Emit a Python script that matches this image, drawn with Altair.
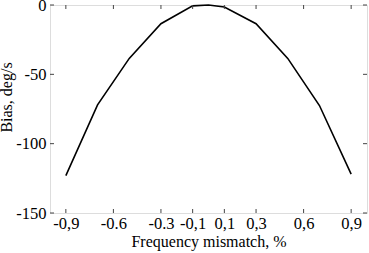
import altair as alt
import pandas as pd

# Data
mismatch = [-0.9, -0.7, -0.5, -0.3, -0.1, 0.0, 0.1, 0.3, 0.5, 0.7, 0.9]
bias = [-123, -72, -38.5, -13.5, -0.6, 0, -1.5, -13.5, -38.5, -72.5, -122]

x_ticks = [-0.9, -0.6, -0.3, -0.1, 0.1, 0.3, 0.6, 0.9]
x_tick_labels = ["-0,9", "-0.6", "-0.3", "-0,1", "0,1", "0,3", "0,6", "0,9"]
y_ticks = [0, -50, -100, -150]

W, H = 317, 208
FONT = "Liberation Serif"

df = pd.DataFrame({"x": mismatch, "y": bias})
xt = pd.DataFrame({"x": x_ticks})
yt = pd.DataFrame({"y": y_ticks})

# label expression built from the label list
expr = "''"
for v, lab in reversed(list(zip(x_ticks, x_tick_labels))):
    expr = f"(abs(datum.value - ({v})) < 1e-6 ? '{lab}' : {expr})"

xscale = alt.Scale(domain=[-1, 1], nice=False, zero=False)
yscale = alt.Scale(domain=[-150, 0], nice=False, zero=False)

xaxis = alt.Axis(
    values=x_ticks, labelExpr=expr, ticks=False, domain=False, grid=False,
    labelFont=FONT, labelFontSize=16.5, labelColor="black", labelPadding=2,
    title="Frequency mismatch, %", titleFont=FONT, titleFontSize=16,
    titleFontWeight="normal", titleColor="black", titlePadding=2,
    labelFlush=False,
)
yaxis = alt.Axis(
    values=y_ticks, labelExpr="'' + datum.value", ticks=False, domain=False,
    grid=False, labelFont=FONT, labelFontSize=16.5, labelColor="black",
    labelPadding=4, title="Bias, deg/s", titleFont=FONT, titleFontSize=16,
    titleFontWeight="normal", titleColor="black", titlePadding=1,
    titleY=92, labelFlush=False,
)

line = alt.Chart(df).mark_line(color="black", strokeWidth=1.6).encode(
    x=alt.X("x:Q", scale=xscale, axis=xaxis),
    y=alt.Y("y:Q", scale=yscale, axis=yaxis),
)

tick_color = "#444444"
bottom_ticks = alt.Chart(xt).mark_rule(color=tick_color, strokeWidth=1).encode(
    x=alt.X("x:Q", scale=xscale), y=alt.value(H), y2=alt.value(H - 4)
)
top_ticks = alt.Chart(xt).mark_rule(color=tick_color, strokeWidth=1).encode(
    x=alt.X("x:Q", scale=xscale), y=alt.value(0), y2=alt.value(4)
)
left_ticks = alt.Chart(yt).mark_rule(color=tick_color, strokeWidth=1).encode(
    y=alt.Y("y:Q", scale=yscale), x=alt.value(0), x2=alt.value(4)
)
right_ticks = alt.Chart(yt).mark_rule(color=tick_color, strokeWidth=1).encode(
    y=alt.Y("y:Q", scale=yscale), x=alt.value(W), x2=alt.value(W - 4)
)

chart = alt.layer(line, bottom_ticks, top_ticks, left_ticks, right_ticks).properties(
    width=W, height=H,
    autosize=alt.AutoSizeParams(type="none"),
    padding={"left": 50, "top": 5, "right": 2, "bottom": 40},
).configure_view(stroke="#666666", strokeWidth=1.2).configure(background="white")

chart.save("out.html", embed_options={"renderer": "svg", "actions": False})
